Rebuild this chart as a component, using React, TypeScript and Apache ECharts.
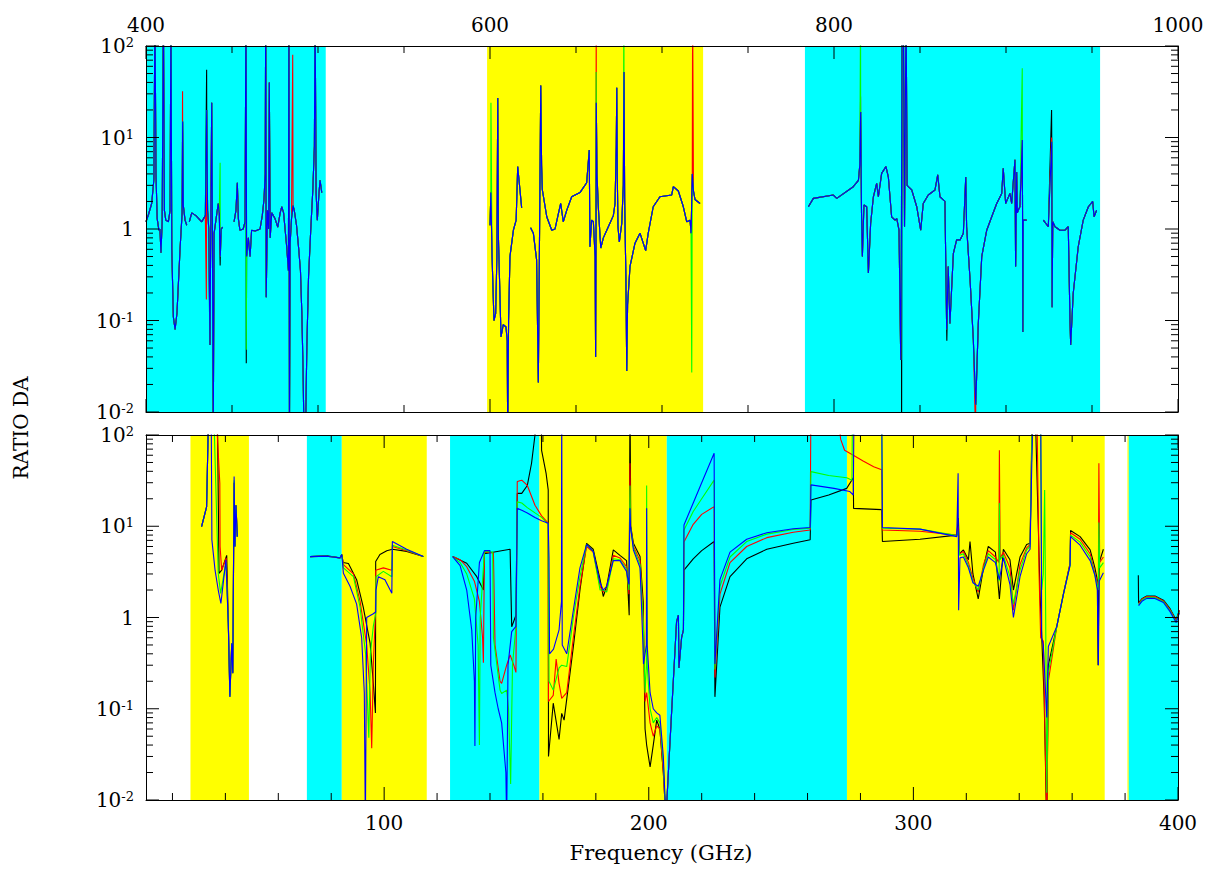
import React, { useEffect, useRef } from 'react';
import * as echarts from 'echarts';

type Pt = [number, number];

const FONT = 'DejaVu Serif';
const SERIES_COLORS = ['#000000', '#ff0000', '#00ff00', '#0000ff'];
const BAND_COLORS = ['#00ffff', '#ffff00'];

// ---------- bands [start GHz, end GHz, kind: 0 cyan / 1 yellow] ----------
const topBands: number[][] = [
  [400, 504.5, 0], [598.3, 723.9, 1], [783.1, 954.7, 0],
];
const bottomBands: number[][] = [
  [26.8, 48.9, 1], [70.8, 84.0, 0], [84.0, 116.1, 1], [124.9, 158.7, 0], [158.7, 206.8, 1],
  [206.8, 274.9, 0], [274.9, 372.3, 1], [380.9, 381.4, 1], [381.4, 400, 0],
];

// ---------- ticks ----------
const topXMajor = [400, 600, 800, 1000];
const topXMinor = [450, 500, 550, 650, 700, 750, 850, 900, 950];
const botXMajor = [100, 200, 300, 400];
const botXMinor = [20, 40, 60, 80, 120, 140, 160, 180, 220, 240, 260, 280, 320, 340, 360, 380];
const yMajor = [0.01, 0.1, 1, 10, 100];
const yMinor = [
  0.02, 0.03, 0.04, 0.05, 0.06, 0.07, 0.08, 0.09,
  0.2, 0.3, 0.4, 0.5, 0.6, 0.7, 0.8, 0.9,
  2, 3, 4, 5, 6, 7, 8, 9,
  20, 30, 40, 50, 60, 70, 80, 90,
];

// ---------- top panel (400-1000 GHz): common curve segments ----------
const topBase: Pt[][] = [
  [[400.0,1.2],[401.5,1.45],[403.3,1.9],[404.6,3.5],[405.2,300],[405.8,4],[406.5,1.3],[407.5,0.97],[408.1,1.0],[408.7,0.55],[409.4,1.2],[410.1,300],[410.7,1.6],[411.5,1.25],[413.0,1.2],[414.0,1.6],[414.5,300],[415.0,0.6],[415.9,0.11],[416.9,0.08],[418.0,0.12],[419.8,0.6],[421.0,1.5],[421.3,15],[421.7,1.8],[422.7,1.25],[423.7,1.1]],
  [[425.2,1.2],[426.6,1.5],[429.0,1.4],[432.4,1.2],[434.5,1.4],[435.3,20],[435.8,1.6],[436.5,1.0],[437.2,0.054],[437.7,1.5],[438.2,24],[438.6,1.1],[439.1,0.005],[439.6,0.9],[440.1,1.05],[441.0,1.4],[442.0,1.9],[442.6,1.5],[443.2,0.5],[443.7,1.0],[444.6,1.05]],
  [[451.2,1.2],[452.3,1.6],[453.1,3.2],[453.7,1.3],[454.6,0.97],[456.5,1.0],[457.6,1.2],[458.1,300],[458.5,0.5],[459.5,0.8],[460.5,0.5],[461.4,0.97],[463.5,0.95],[466.3,1.0],[467.6,1.4],[468.6,2.1],[469.3,4],[469.6,300],[469.9,0.18],[470.6,1.6],[471.3,1.0],[471.7,40],[472.2,0.8],[473.1,1.5],[475.0,1.3],[476.6,1.05],[478.0,1.5],[478.9,1.75],[480.0,1.5],[481.8,0.64],[482.8,0.35],[483.1,300],[483.4,0.005],[483.8,0.7],[484.6,1.3],[485.5,1.8],[486.2,1.6],[487.5,1.1],[488.8,0.6],[489.8,0.35],[490.6,0.12],[491.3,0.03],[491.9,0.005],[492.7,0.005],[493.5,0.05],[494.5,0.3],[495.8,1.0],[497.0,2.7],[497.9,8],[498.3,300],[498.9,2.5],[499.6,1.25],[500.6,2.5],[501.2,3.4],[502.2,2.5]],
  [[600.0,1.1],[600.5,2.5],[601.2,0.5],[602.3,0.1],[603.3,0.12],[604.0,0.5],[604.5,27],[604.9,0.8],[605.5,0.3],[606.4,0.066],[607.7,0.09],[609.3,0.085],[610.0,0.06],[610.3,0.005],[610.8,0.1],[611.6,0.5],[613.6,0.97],[615.2,1.25],[616.1,4.8],[617.4,2.7],[618.4,1.7]],
  [[623.6,1.03],[625.2,0.9],[627.1,0.46],[628.1,0.021],[628.7,0.5],[629.5,37],[630.0,5],[630.4,2.7],[633.0,1.36],[635.9,0.97],[637.8,1.0],[639.7,1.45],[641.1,1.9],[642.6,1.2],[644.6,1.6],[647.5,2.25],[652.3,2.5],[656.2,3.2],[657.7,7.3],[658.1,0.64],[659.1,1.25],[660.1,1.2],[661.1,0.5],[661.4,0.04],[661.6,0.5],[661.8,24],[662.2,4],[663.0,1.7],[664.4,0.62],[665.9,0.8],[668.8,1.06],[671.7,1.4],[672.7,1.9],[673.4,8],[673.7,35],[674.0,4],[674.4,1.06],[675.2,0.72],[676.6,1.15],[677.5,3],[677.9,52],[678.3,2],[679.0,0.3],[679.5,0.028],[680.0,0.15],[681.4,0.39],[684.3,0.7],[687.2,0.9],[689.1,0.7],[690.5,0.58],[692.0,0.9],[694.9,1.75],[698.8,2.25],[705.6,2.35],[706.6,2.9],[709.5,2.6],[712.4,1.75],[714.4,1.2],[716.3,1.25],[716.9,0.9],[717.6,4],[718.3,2.6],[719.2,2.1],[722.1,1.9]],
  [[785.1,1.75],[788.0,2.16],[799.6,2.35],[801.6,2.16],[811.2,2.9],[814.2,3.4],[815.0,5],[815.5,19],[816.0,1.5],[816.5,0.5],[817.4,1.83],[819.0,1.75],[820.0,0.33],[821.3,1.15],[822.9,2.25],[824.8,3.15],[825.8,2.25],[827.7,4.05],[830.2,4.8],[831.6,3.7],[833.5,1.36],[835.5,1.25],[836.5,1.3],[837.8,0.97],[838.8,0.037],[839.2,1],[839.6,300],[840.3,300],[841.0,1.06],[841.9,300],[842.5,3],[843.2,2.9],[845.2,2.67],[848.1,1.75],[850.4,0.97],[851.9,1.9],[854.8,2.35],[858.7,2.67],[860.3,3.9],[861.6,2.25],[864.5,2.0],[865.5,0.08],[866.4,0.39],[867.4,0.093],[869.4,0.54],[871.3,0.76],[873.3,0.76],[875.2,0.9],[876.6,3.7],[877.1,1.06],[879.1,0.28],[881.0,0.062],[882.4,0.012],[883.9,0.093],[885.9,0.5],[888.8,0.97],[891.7,1.36],[894.6,1.9],[897.5,2.45],[898.4,4.6],[899.8,1.9],[902.3,2.45],[903.3,1.9],[905.2,5.7],[905.6,0.39],[906.2,4.2],[906.6,1.5],[907.1,1.6],[908.1,1.75],[909.5,9.4],[909.8,0.075],[910.0,1.25],[912.0,1.25]],
  [[921.7,1.25],[924.6,1.06],[926.6,9],[926.8,0.14],[927.2,1.2],[928.5,1.06],[931.4,0.97],[934.3,0.97],[936.2,1.06],[937.2,0.1],[937.6,0.054],[939.1,0.2],[942.0,0.64],[944.9,1.25],[947.9,1.75],[950.4,2.0],[951.2,1.36],[952.7,1.6]],
];
// series-specific spikes in the top panel
const topSpikesBlack: Pt[] = [[435.25,55],[437.0,0.09],[443.1,0.4],[458.3,0.034],[839.3,0.005],[865.6,0.06],[926.5,20]];
const topSpikesRed: Pt[] = [[421.25,32],[435.1,0.17],[485.3,80],[661.75,300],[717.8,300],[815.45,28],[882.35,0.005],[926.5,10]];
const topSpikesGreen: Pt[] = [[443.1,5.3],[458.3,0.048],[600.55,24],[661.7,52],[677.85,300],[717.3,0.027],[815.45,300],[909.45,57]];
const topSpikesBlue: Pt[] = [];

// ---------- bottom panel (10-400 GHz) ----------
const botBlack: Pt[][] = [
  [[31.0,9.9],[32.9,16.3],[33.8,300],[36.9,300],[37.6,3.05],[38.6,3.3],[40.5,4.8],[41.1,0.9],[41.7,0.14],[42.4,0.52],[42.8,0.25],[43.3,30],[43.6,6.0],[44.0,17],[44.5,7.7]],
  [[72.0,4.65],[78.3,4.75],[83.3,4.5],[84.0,4.9],[84.5,4.0],[86.5,3.9],[89.6,2.6],[92.1,1.3],[94.7,0.52],[95.9,0.19],[96.7,0.09],[96.8,4.1],[98.4,4.9],[101.0,5.4],[103.1,5.6],[108.5,5.3],[114.8,4.65]],
  [[125.9,4.65],[131.2,3.93],[135.0,2.8],[137.5,2.0],[137.9,5.0],[147.6,5.6],[148.2,0.79],[149.8,1.06],[150.3,22.9],[152.0,22.9],[154.1,28],[155.7,49],[157.0,100],[157.5,300],[159.3,300],[159.5,68],[161.2,38],[162.0,25],[162.1,0.03],[163.9,0.115],[166.1,0.046],[167.1,0.089],[168.0,0.075],[171.5,0.48],[174.0,2.0],[176.5,6.5],[179.0,5.6],[181.6,2.6],[182.8,1.7],[184.1,2.2],[186.6,5.5],[189.1,4.8],[191.6,4.2],[192.6,1.06],[192.9,300],[193.2,10],[194.2,6.5],[196.7,4.65],[197.9,1.5],[198.6,0.06],[199.2,0.04],[200.5,0.023],[201.7,0.04],[203.0,0.075],[204.2,0.06],[205.5,0.02],[206.5,0.006],[207.0,0.012],[208.7,0.1],[210.5,0.9],[211.2,1.06],[211.4,0.28],[212.4,0.6],[213.1,0.73],[213.3,3.3],[216.8,4.4],[220.0,5.4],[224.7,6.8],[225.0,0.135],[226.9,1.3],[230.7,2.8],[237.0,4.4],[244.6,5.6],[254.6,6.5],[261.0,7.1],[261.3,19.4],[268.0,22],[274.8,26],[277.3,34],[277.4,15.7],[288.0,15.2],[288.3,6.8],[302.5,7.2],[316.4,8.0],[317.0,12.3],[317.4,5.0],[318.9,5.5],[320.8,4.3],[321.4,6.8],[322.5,3.0],[324.5,1.6],[326.5,3.5],[328.3,6.0],[331.0,5.2],[332.5,1.6],[334.0,5.6],[336.5,4.3],[337.8,2.0],[340.3,4.6],[342.8,6.3],[344.1,6.5],[345.1,300],[346.3,100],[347.9,1.7],[349.4,0.135],[350.4,0.005],[351.0,0.3],[354.2,0.8],[356.7,1.8],[359.2,3.9],[359.4,9.0],[363.0,7.7],[366.8,5.5],[368.6,3.5],[369.6,2.5],[369.8,0.3],[370.2,4],[371.8,5.6]],
  [[385.0,2.9],[385.1,1.45],[386.5,1.62],[388.2,1.72],[391.3,1.72],[394.5,1.55],[397.0,1.25],[399.3,0.94],[400.5,1.2]],
];
const botRed: Pt[][] = [
  [[31.0,9.9],[32.9,16.3],[33.8,300],[36.1,300],[37.9,29.5],[38.0,6.0],[38.6,3.3],[40.3,4.5],[41.1,0.88],[41.7,0.135],[42.4,0.52],[42.8,0.245],[43.3,30],[43.6,6.0],[44.0,17],[44.5,7.7]],
  [[72.0,4.65],[78.3,4.7],[83.3,4.5],[84.0,4.9],[84.6,3.8],[88.4,3.0],[90.9,1.5],[93.4,0.5],[94.7,0.15],[95.3,0.037],[95.9,0.3],[96.7,1.1],[96.8,3.3],[99.7,3.5],[102.9,3.3],[103.1,6.0],[108.5,5.4],[114.8,4.65]],
  [[125.9,4.65],[128.7,4.3],[131.2,3.6],[134.1,2.5],[136.0,1.5],[137.2,0.6],[137.5,0.32],[137.9,5.2],[141.3,5.1],[141.9,0.5],[143.8,0.2],[144.4,0.19],[146.3,0.3],[147.6,0.39],[149.0,0.3],[149.8,0.25],[150.3,31],[152.0,32],[154.1,28],[157.0,17],[159.5,13],[162.0,10.8],[162.1,0.12],[163.9,0.14],[165.0,0.35],[166.1,0.19],[167.1,0.13],[169.0,0.15],[171.5,0.6],[174.0,2.2],[176.5,6.0],[179.0,5.2],[181.6,2.2],[182.8,1.9],[184.1,2.0],[186.6,4.8],[189.1,4.5],[191.6,3.6],[192.5,1.8],[192.9,49],[193.1,10],[194.2,6.0],[196.7,4.2],[197.9,1.0],[198.6,0.12],[199.2,0.15],[200.5,0.07],[201.7,0.05],[203.0,0.065],[204.2,0.06],[205.5,0.02],[206.5,0.006],[207.0,0.012],[208.7,0.1],[210.5,0.9],[211.2,1.06],[211.4,0.28],[212.4,0.6],[213.1,0.73],[213.3,6.7],[216.8,10.5],[220.0,13.5],[224.7,16.4],[225.0,0.22],[226.9,1.8],[230.7,4.0],[237.0,6.0],[244.6,7.5],[254.6,8.6],[261.0,9.1],[261.3,300],[270.8,300],[272.5,90],[274.0,68],[277.3,60],[281.0,52],[285.0,45],[288.0,41.5],[288.3,9.1],[302.5,8.8],[316.4,8.0],[317.0,10],[317.4,5.0],[318.9,5.3],[320.8,4.0],[322.5,2.7],[324.5,1.9],[326.5,3.8],[328.3,5.4],[331.0,4.6],[332.3,4.0],[332.5,68],[332.8,4.5],[334.0,5.2],[336.5,3.5],[337.8,1.2],[340.3,3.8],[342.8,5.8],[344.1,6.3],[345.0,300],[346.6,300],[347.5,3],[348.1,0.6],[349.1,0.55],[350.4,0.005],[351.0,0.2],[354.2,0.8],[356.7,1.8],[359.2,3.9],[359.4,8.5],[363.0,7.2],[366.8,5.0],[368.6,3.0],[369.9,2.2],[370.1,49],[370.4,4.0],[371.8,4.6]],
  [[385.1,1.42],[386.5,1.6],[388.2,1.7],[391.3,1.7],[394.5,1.52],[397.0,1.22],[399.3,0.92],[400.5,1.18]],
];
const botGreen: Pt[][] = [
  [[31.0,9.9],[32.9,16.3],[33.8,300],[35.4,300],[37.3,3.05],[38.2,1.84],[40.2,4.0],[41.1,0.87],[41.7,0.135],[42.4,0.52],[42.8,0.245],[43.3,32],[43.6,6.0],[44.0,17],[44.5,7.7]],
  [[72.0,4.65],[78.3,4.7],[83.3,4.5],[84.0,4.9],[84.6,3.5],[88.4,2.8],[90.9,1.3],[93.0,0.4],[94.2,0.048],[94.8,0.4],[95.9,0.8],[96.8,1.1],[96.9,2.8],[99.7,3.2],[102.9,2.8],[103.1,6.2],[108.5,5.5],[114.8,4.65]],
  [[125.9,4.65],[128.7,4.0],[131.2,3.0],[134.1,1.6],[135.5,0.5],[136.0,0.04],[136.3,1.0],[137.9,5.3],[141.0,5.2],[141.3,0.6],[143.8,0.16],[144.4,0.147],[146.3,0.16],[147.0,0.1],[147.8,0.015],[148.5,0.3],[149.8,0.8],[150.3,18.5],[152.0,18],[154.1,16],[157.0,14],[159.5,12.5],[162.0,10.5],[162.3,0.2],[163.9,0.16],[166.1,0.28],[167.1,0.3],[169.0,0.29],[171.5,1.0],[174.0,2.8],[176.5,6.3],[179.0,5.3],[181.6,2.0],[182.8,2.0],[184.1,1.9],[186.6,4.4],[189.1,4.3],[191.6,3.4],[192.5,2.0],[192.9,28],[193.1,10],[194.2,5.8],[196.7,3.8],[197.9,0.9],[198.6,0.15],[199.1,0.3],[199.2,28],[199.4,0.3],[200.5,0.1],[201.7,0.07],[203.0,0.08],[204.2,0.07],[205.5,0.025],[206.5,0.006],[207.0,0.012],[208.7,0.1],[210.5,0.9],[211.2,1.06],[211.4,0.28],[212.4,0.6],[213.1,0.73],[213.3,9.1],[216.8,14.5],[220.0,20],[224.7,32],[225.0,0.27],[226.9,2.2],[230.7,4.6],[237.0,6.8],[244.6,8.2],[254.6,9.2],[261.0,9.5],[261.3,39.7],[268.0,36],[274.8,34],[276.8,32],[277.0,300],[288.0,300],[288.3,9.5],[302.5,9.3],[316.4,7.9],[317.0,9],[317.4,4.8],[318.9,5.0],[320.8,3.7],[322.5,2.5],[324.5,2.0],[326.5,3.5],[328.3,5.0],[331.0,4.3],[332.4,2.5],[332.5,18],[332.7,4.3],[334.0,4.8],[336.5,2.8],[337.8,1.4],[340.3,3.3],[342.8,5.5],[344.1,6.0],[345.0,300],[348.0,300],[348.5,2.0],[349.1,3.0],[349.6,25],[350.0,1.0],[350.4,0.012],[351.0,0.25],[354.2,0.8],[356.7,1.8],[359.2,3.7],[359.4,8.0],[363.0,6.7],[366.8,4.6],[368.6,2.9],[369.9,2.0],[370.1,11],[370.4,3.5],[371.8,4.0]],
  [[385.1,1.38],[386.5,1.56],[388.2,1.66],[391.3,1.66],[394.5,1.49],[397.0,1.19],[399.3,0.9],[400.5,1.15]],
];
const botBlue: Pt[][] = [
  [[31.0,9.9],[32.9,16.3],[33.8,300],[34.6,300],[34.9,7.1],[36.1,3.3],[37.3,2.0],[38.3,1.43],[40.2,4.3],[41.1,0.86],[41.7,0.135],[42.4,0.52],[42.8,0.245],[43.3,35],[43.6,6.0],[44.0,17],[44.5,7.7]],
  [[72.0,4.65],[78.3,4.7],[83.3,4.5],[84.0,4.9],[84.6,3.05],[87.1,2.2],[89.6,1.4],[91.5,0.6],[92.5,0.15],[92.9,0.005],[93.4,1.0],[95.9,1.1],[96.8,1.15],[96.9,2.0],[97.8,2.8],[100.3,2.6],[102.9,1.84],[103.1,6.8],[108.5,5.6],[114.8,4.65]],
  [[125.9,4.65],[128.7,3.7],[131.2,2.0],[133.1,0.73],[134.1,0.2],[134.3,0.039],[134.6,1.0],[136.0,4.0],[137.9,5.4],[140.0,5.4],[140.3,0.3],[141.9,0.15],[143.1,0.1],[144.4,0.07],[146.0,0.02],[146.3,0.005],[146.8,0.3],[148.2,0.7],[149.8,0.8],[150.3,15.7],[152.0,15],[154.1,14],[157.0,12.5],[159.5,11.5],[162.0,10.8],[162.3,4.45],[162.5,0.4],[164.0,0.45],[166.1,0.73],[167.0,1.5],[167.1,300],[167.3,0.5],[169.0,0.4],[171.5,1.2],[174.0,3.5],[176.5,6.3],[179.0,5.3],[181.6,2.4],[182.8,2.0],[184.1,2.2],[186.6,4.2],[189.1,4.2],[191.6,3.2],[192.5,2.3],[192.9,15.7],[193.1,10],[194.2,5.5],[196.7,3.5],[197.7,0.6],[198.0,0.31],[199.1,0.5],[199.2,15.7],[199.4,0.5],[200.5,0.15],[201.7,0.1],[203.0,0.09],[204.2,0.085],[205.5,0.03],[206.5,0.006],[207.0,0.012],[208.7,0.1],[210.5,0.9],[211.2,1.06],[211.4,0.28],[212.4,0.6],[213.1,0.73],[213.3,10.3],[216.8,18],[220.0,30],[224.7,63],[225.0,0.31],[226.9,2.6],[230.7,5.2],[237.0,7.2],[244.6,8.5],[254.6,9.4],[261.0,9.7],[261.3,28.4],[270.0,26],[276.0,24],[277.3,22],[277.6,300],[288.0,300],[288.3,9.7],[302.5,9.3],[316.4,7.7],[316.9,38],[317.1,1.2],[317.6,4.5],[318.9,4.6],[320.8,3.5],[322.5,2.4],[324.5,2.2],[326.5,3.3],[328.3,4.6],[331.0,4.0],[332.5,2.6],[334.0,4.5],[336.5,2.3],[337.8,1.0],[340.3,2.8],[342.8,5.0],[344.1,5.6],[345.3,300],[348.1,300],[348.5,0.6],[349.1,0.5],[350.4,0.08],[351.0,0.48],[354.2,0.8],[356.7,1.8],[359.2,3.7],[359.4,7.7],[363.0,6.2],[366.8,4.2],[368.6,2.9],[369.5,2.0],[369.9,0.3],[370.2,2.5],[371.8,3.1]],
  [[385.1,1.35],[386.5,1.52],[388.2,1.62],[391.3,1.62],[394.5,1.46],[397.0,1.16],[399.3,0.88],[400.5,1.12]],
];

// ---------- helpers ----------
function withSpikes(segs: Pt[][], spikes: Pt[]): Pt[][] {
  return segs.map((seg) => {
    const lo = seg[0][0];
    const hi = seg[seg.length - 1][0];
    return seg.concat(spikes.filter((p) => p[0] > lo && p[0] < hi)).sort((a, b) => a[0] - b[0]);
  });
}
function joinSegments(segs: Pt[][]): any[] {
  const out: any[] = [];
  segs.forEach((seg, i) => {
    if (i > 0) {
      const prev = segs[i - 1];
      out.push([(prev[prev.length - 1][0] + seg[0][0]) / 2, '-']);
    }
    seg.forEach((p) => out.push([p[0], p[1]]));
  });
  return out;
}

function lineSeries(name: string, colorIdx: number, xi: number, yi: number, segs: Pt[][]) {
  return {
    name, type: 'line', xAxisIndex: xi, yAxisIndex: yi, data: joinSegments(segs),
    showSymbol: false, symbol: 'none', connectNulls: false, clip: true, z: 3, silent: true,
    lineStyle: { color: SERIES_COLORS[colorIdx], width: 1.1 }, itemStyle: { color: SERIES_COLORS[colorIdx] },
  };
}

function bandSeries(xi: number, yi: number, bands: number[][]) {
  return {
    type: 'custom', xAxisIndex: xi, yAxisIndex: yi, silent: true, z: 1,
    encode: { x: [0, 1], y: 3 },
    data: bands.map((b) => [b[0], b[1], b[2], 1]),
    renderItem: (_p: any, api: any) => {
      const a = api.coord([api.value(0), 100]);
      const b = api.coord([api.value(1), 0.01]);
      return {
        type: 'rect',
        shape: { x: a[0], y: a[1], width: b[0] - a[0], height: b[1] - a[1] },
        style: { fill: BAND_COLORS[api.value(2)] },
      };
    },
  };
}

function tickSeries(xi: number, yi: number, xMin: number, xMax: number, xMaj: number[], xMin2: number[]) {
  const data: number[][] = [
    ...xMaj.map((v) => [v, 1, 0, 1]),
    ...xMin2.map((v) => [v, 1, 0, 0]),
    ...yMajor.map((v) => [xMin, v, 1, 1]),
    ...yMinor.map((v) => [xMin, v, 1, 0]),
  ];
  return {
    type: 'custom', xAxisIndex: xi, yAxisIndex: yi, silent: true, z: 12, clip: false,
    encode: { x: 0, y: 1 },
    data,
    renderItem: (_p: any, api: any) => {
      const isY = api.value(2) === 1;
      const major = api.value(3) === 1;
      const style = { stroke: '#000', lineWidth: 1 };
      if (!isY) {
        const len = major ? 13 : 7;
        const v = api.value(0);
        const b = api.coord([v, 0.01]);
        const t = api.coord([v, 100]);
        return {
          type: 'group',
          children: [
            { type: 'line', shape: { x1: b[0], y1: b[1], x2: b[0], y2: b[1] - len }, style },
            { type: 'line', shape: { x1: t[0], y1: t[1], x2: t[0], y2: t[1] + len }, style },
          ],
        };
      }
      const len = major ? 13 : 7;
      const v = api.value(1);
      const l = api.coord([xMin, v]);
      const r = api.coord([xMax, v]);
      return {
        type: 'group',
        children: [
          { type: 'line', shape: { x1: l[0], y1: l[1], x2: l[0] + len, y2: l[1] }, style },
          { type: 'line', shape: { x1: r[0], y1: r[1], x2: r[0] - len, y2: r[1] }, style },
        ],
      };
    },
  };
}

const axisLine = { show: true, onZero: false, lineStyle: { color: '#000', width: 1 } };
const yLabel = {
  margin: 12,
  color: '#000',
  fontFamily: FONT,
  formatter: (v: number) => {
    const e = Math.round(Math.log10(v));
    return e === 0 ? '{b|1}' : `{b|10}{s|${e}}`;
  },
  rich: {
    b: { fontSize: 20, fontFamily: FONT, color: '#000', lineHeight: 20, padding: [12, 0, 12, 0] },
    s: { fontSize: 13, fontFamily: FONT, color: '#000', lineHeight: 14, verticalAlign: 'top' },
  },
};

function yAxisPair(grid: number) {
  const base = {
    type: 'log', logBase: 10, min: 0.01, max: 100, gridIndex: grid, z: 10,
    axisLine, axisTick: { show: false }, splitLine: { show: false }, minorTick: { show: false },
  };
  return [
    { ...base, position: 'left', axisLabel: yLabel },
    { ...base, position: 'right', axisLabel: { show: false } },
  ];
}

const plainNumber = (v: number) => String(v);

export default function App() {
  const ref = useRef<HTMLDivElement>(null);
  useEffect(() => {
    if (!ref.current) return;
    const chart = echarts.init(ref.current, undefined, { renderer: 'svg' });
    const topData = [topSpikesBlack, topSpikesRed, topSpikesGreen, topSpikesBlue].map((s) => withSpikes(topBase, s));
    const botData = [botBlack, botRed, botGreen, botBlue];
    const names = ['black', 'red', 'green', 'blue'];
    const option: any = {
      animation: false,
      backgroundColor: '#ffffff',
      textStyle: { fontFamily: FONT },
      grid: [
        { left: 146, top: 46, width: 1032, height: 366 },
        { left: 146, top: 435, width: 1032, height: 365 },
      ],
      xAxis: [
        {
          type: 'value', gridIndex: 0, position: 'top', min: 400, max: 1000, interval: 200, z: 10,
          axisLine, axisTick: { show: false }, splitLine: { show: false },
          axisLabel: { margin: 11, color: '#000', fontFamily: FONT, fontSize: 20, formatter: plainNumber },
        },
        {
          type: 'value', gridIndex: 0, position: 'bottom', min: 400, max: 1000, interval: 200, z: 10,
          axisLine, axisTick: { show: false }, splitLine: { show: false }, axisLabel: { show: false },
        },
        {
          type: 'value', gridIndex: 1, position: 'bottom', min: 10, max: 400, z: 10,
          axisLine, axisTick: { show: false }, splitLine: { show: false },
          axisLabel: {
            margin: 13, color: '#000', fontFamily: FONT, fontSize: 20,
            customValues: botXMajor, formatter: plainNumber,
          },
        },
        {
          type: 'value', gridIndex: 1, position: 'top', min: 10, max: 400, z: 10,
          axisLine, axisTick: { show: false }, splitLine: { show: false }, axisLabel: { show: false },
        },
      ],
      yAxis: [...yAxisPair(0), ...yAxisPair(1)],
      graphic: [
        {
          type: 'text', x: 661, y: 853, z: 20,
          style: { text: 'Frequency (GHz)', fontFamily: FONT, fontSize: 21, fill: '#000', textAlign: 'center', textVerticalAlign: 'middle' },
        },
        {
          type: 'text', x: 21, y: 428, rotation: Math.PI / 2, z: 20,
          style: { text: 'RATIO DA', fontFamily: FONT, fontSize: 20, fill: '#000', textAlign: 'center', textVerticalAlign: 'middle' },
        },
      ],
      series: [
        bandSeries(0, 0, topBands),
        bandSeries(2, 2, bottomBands),
        ...topData.map((segs, i) => lineSeries('top-' + names[i], i, 0, 0, segs)),
        ...botData.map((segs, i) => lineSeries('bottom-' + names[i], i, 2, 2, segs)),
        tickSeries(0, 0, 400, 1000, topXMajor, topXMinor),
        tickSeries(2, 2, 10, 400, botXMajor, botXMinor),
      ],
    };
    chart.setOption(option);
    return () => chart.dispose();
  }, []);
  return (
    <div
      ref={ref}
      style={{ position: 'fixed', left: 0, top: 0, width: 1217, height: 869, background: '#fff' }}
    />
  );
}
